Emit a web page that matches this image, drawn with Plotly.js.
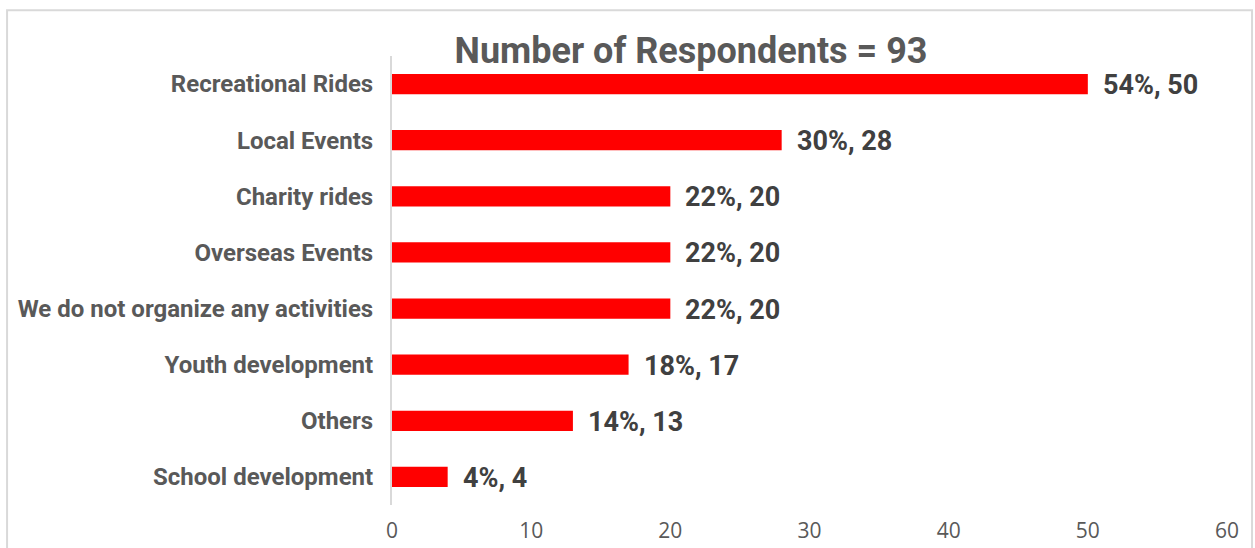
<!DOCTYPE html>
<html><head><meta charset="utf-8">
<script src="https://cdn.plot.ly/plotly-3.0.1.min.js"></script>
<style>body{margin:0;background:#fff}#c{width:1255px;height:548px}</style>
</head><body><div id="c"></div>
<script>
const categories = ["Recreational Rides","Local Events","Charity rides","Overseas Events","We do not organize any activities","Youth development","Others","School development"];
const counts = [50, 28, 20, 20, 20, 17, 13, 4];
const percents = [54, 30, 22, 22, 22, 18, 14, 4];
const xTicks = [0, 10, 20, 30, 40, 50, 60];
const titleText = "Number of Respondents = 93";

const labels = counts.map((v, i) => percents[i] + "%, " + v);

const trace = {
  type: "bar", orientation: "h",
  y: categories, x: counts,
  marker: {color: "#ff0000"},
  width: 0.36,
  hoverinfo: "none"
};

const annotations = categories.map((c, i) => ({
  x: counts[i], y: c, xref: "x", yref: "y",
  text: labels[i], showarrow: false, xanchor: "left", yanchor: "middle",
  xshift: 13, yshift: -1,
  font: {family: "Roboto, sans-serif", size: 27, color: "#404040", weight: "bold"}
}));

const layout = {
  width: 1255, height: 548,
  margin: {l: 392, r: 28, t: 56, b: 43},
  paper_bgcolor: "#fff", plot_bgcolor: "#fff",
  showlegend: false,
  title: {text: "<b>" + titleText + "</b>", x: 0.5506, xanchor: "center", y: 0.908, yanchor: "middle",
    font: {family: "Roboto, sans-serif", size: 36, color: "#595959"}},
  xaxis: {range: [0, 60], tickvals: xTicks, ticktext: xTicks.map(String), showgrid: false, zeroline: false,
    showline: false, ticks: "", fixedrange: true, ticklabelstandoff: 11,
    tickfont: {family: "Open Sans, sans-serif", size: 21, color: "#595959"}},
  yaxis: {autorange: "reversed", showgrid: false, zeroline: false, showline: true, linecolor: "#d9d9d9", linewidth: 2,
    ticks: "outside", ticklen: 12, tickcolor: "rgba(0,0,0,0)",
    tickfont: {family: "Roboto, sans-serif", size: 24, color: "#595959", weight: "bold"}},
  annotations: annotations,
  shapes: [{type: "rect", xref: "paper", yref: "paper", x0: -0.461, x1: 1.030, y0: -0.2, y1: 1.102,
    line: {color: "#d9d9d9", width: 2}, fillcolor: "rgba(0,0,0,0)", layer: "below"}]
};

Plotly.newPlot("c", [trace], layout, {displayModeBar: false, staticPlot: true});
</script></body></html>
